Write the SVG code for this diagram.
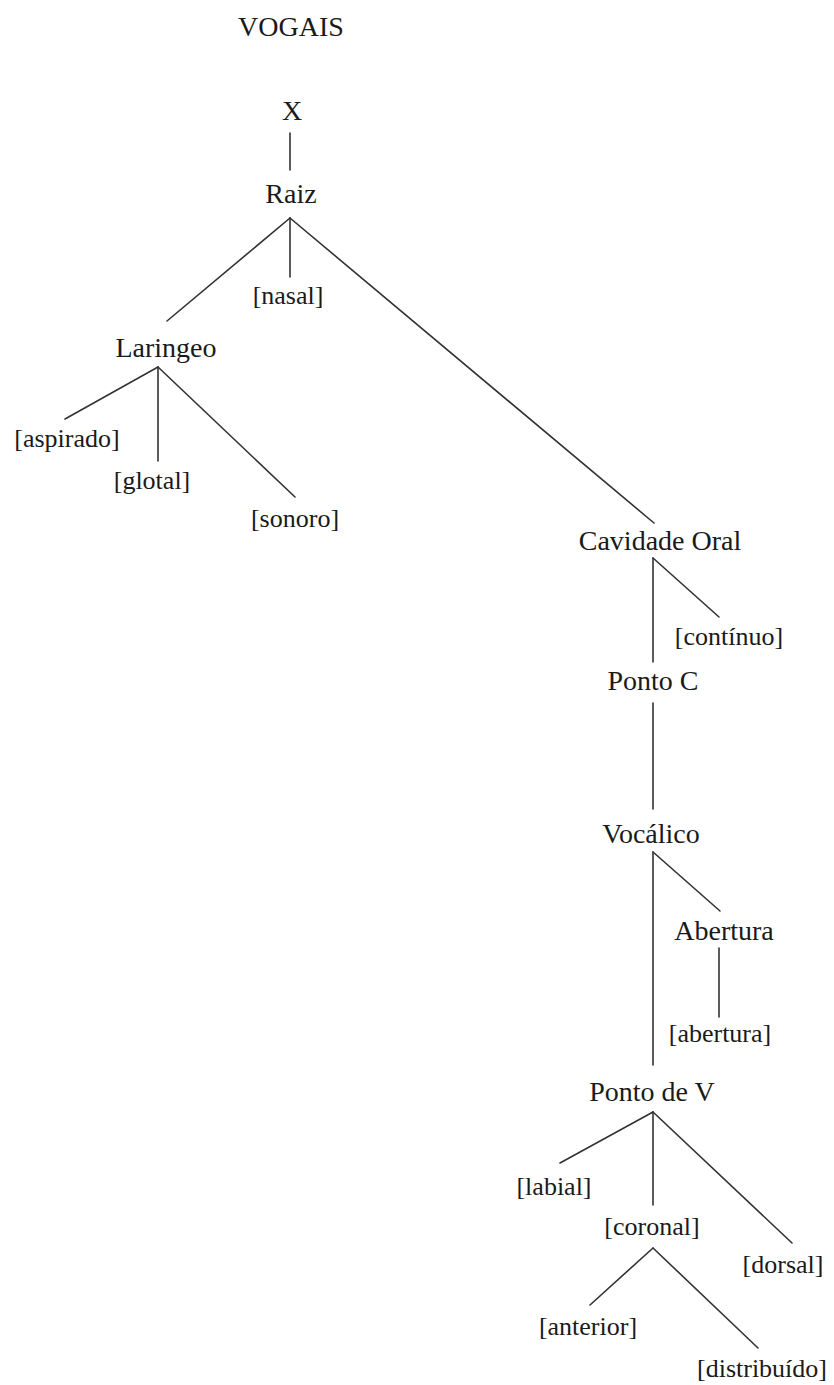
<svg xmlns="http://www.w3.org/2000/svg" width="834" height="1385" viewBox="0 0 834 1385">
<style>
text{font-family:"Liberation Serif","Times New Roman",serif;fill:#1a1a1a;text-anchor:middle}
.n{font-size:28px}
.f{font-size:26px}
.c line{stroke:#333;stroke-width:1.6;stroke-linecap:round}
</style>
<rect width="834" height="1385" fill="#fff"/>
<g class="c" id="connectors">
<line x1="290" y1="133" x2="290" y2="170"/>
<line x1="290" y1="218" x2="167" y2="321"/>
<line x1="290" y1="218" x2="290" y2="277"/>
<line x1="290" y1="218" x2="654" y2="523"/>
<line x1="158" y1="367" x2="65" y2="419"/>
<line x1="158" y1="367" x2="158" y2="461"/>
<line x1="158" y1="367" x2="295" y2="497"/>
<line x1="653" y1="558" x2="653" y2="662"/>
<line x1="653" y1="558" x2="719" y2="617"/>
<line x1="653" y1="703" x2="653" y2="809"/>
<line x1="653" y1="852" x2="653" y2="1065"/>
<line x1="653" y1="852" x2="720" y2="911"/>
<line x1="719" y1="948" x2="719" y2="1017"/>
<line x1="653" y1="1112" x2="560" y2="1163"/>
<line x1="653" y1="1112" x2="653" y2="1205"/>
<line x1="653" y1="1112" x2="792" y2="1243"/>
<line x1="653" y1="1248" x2="590" y2="1305"/>
<line x1="653" y1="1248" x2="758" y2="1348"/>
</g>
<g id="title"><text class="n" x="291" y="36">VOGAIS</text></g>
<g id="x"><text class="n" x="292" y="120">X</text></g>
<g id="raiz"><text class="n" x="291" y="203">Raiz</text></g>
<g id="nasal"><text class="f" x="288" y="304">[nasal]</text></g>
<g id="laringeo"><text class="n" x="166" y="357">Laringeo</text></g>
<g id="aspirado"><text class="f" x="67" y="447">[aspirado]</text></g>
<g id="glotal"><text class="f" x="152" y="489">[glotal]</text></g>
<g id="sonoro"><text class="f" x="295" y="527">[sonoro]</text></g>
<g id="cavidade"><text class="n" x="660" y="550">Cavidade Oral</text></g>
<g id="continuo"><text class="f" x="729" y="645">[contínuo]</text></g>
<g id="pontoc"><text class="n" x="653" y="690">Ponto C</text></g>
<g id="vocalico"><text class="n" x="651" y="843">Vocálico</text></g>
<g id="abertura"><text class="n" x="724" y="940">Abertura</text></g>
<g id="abertura-f"><text class="f" x="720" y="1042">[abertura]</text></g>
<g id="pontov"><text class="n" x="652" y="1101">Ponto de V</text></g>
<g id="labial"><text class="f" x="554" y="1195">[labial]</text></g>
<g id="coronal"><text class="f" x="652" y="1235">[coronal]</text></g>
<g id="dorsal"><text class="f" x="783" y="1273">[dorsal]</text></g>
<g id="anterior"><text class="f" x="588" y="1335">[anterior]</text></g>
<g id="distribuido"><text class="f" x="762" y="1377">[distribuído]</text></g>
</svg>
